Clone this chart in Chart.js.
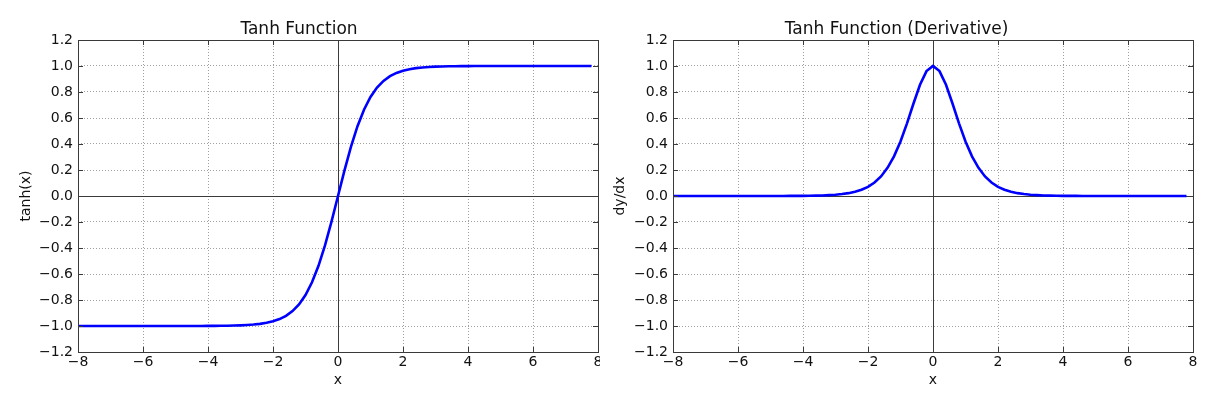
<!DOCTYPE html>
<html>
<head>
<meta charset="utf-8">
<title>Tanh Function</title>
<script src="https://cdn.jsdelivr.net/npm/chart.js@4.4.1/dist/chart.umd.min.js"></script>
<style>
  html, body { margin: 0; padding: 0; background: #fff; }
  #wrap { position: relative; width: 1230px; height: 395px; }
  canvas { position: absolute; top: 0; }
</style>
</head>
<body>
<div id="wrap">
  <canvas id="tanhChart" width="600" height="395" style="left:0"></canvas>
  <canvas id="derivChart" width="630" height="395" style="left:600px"></canvas>
</div>
<script>
"use strict"

const xValues = [
  -8.0, -7.8, -7.6, -7.4, -7.2, -7.0, -6.8, -6.6, -6.4, -6.2,
  -6.0, -5.8, -5.6, -5.4, -5.2, -5.0, -4.8, -4.6, -4.4, -4.2,
  -4.0, -3.8, -3.6, -3.4, -3.2, -3.0, -2.8, -2.6, -2.4, -2.2,
  -2.0, -1.8, -1.6, -1.4, -1.2, -1.0, -0.8, -0.6, -0.4, -0.2,
  0.0, 0.2, 0.4, 0.6, 0.8, 1.0, 1.2, 1.4, 1.6, 1.8,
  2.0, 2.2, 2.4, 2.6, 2.8, 3.0, 3.2, 3.4, 3.6, 3.8,
  4.0, 4.2, 4.4, 4.6, 4.8, 5.0, 5.2, 5.4, 5.6, 5.8,
  6.0, 6.2, 6.4, 6.6, 6.8, 7.0, 7.2, 7.4, 7.6, 7.8
];

const tanhValues = [
  -1.0, -1.0, -1.0, -1.0, -1.0, -1.0, -1.0, -1.0, -1.0, -1.0,
  -1.0, -1.0, -1.0, -1.0, -0.9999, -0.9999, -0.9999, -0.9998, -0.9997, -0.9996,
  -0.9993, -0.9990, -0.9985, -0.9978, -0.9967, -0.9951, -0.9926, -0.9890, -0.9837, -0.9757,
  -0.9640, -0.9468, -0.9217, -0.8854, -0.8337, -0.7616, -0.6640, -0.5370, -0.3799, -0.1974,
  0.0, 0.1974, 0.3799, 0.5370, 0.6640, 0.7616, 0.8337, 0.8854, 0.9217, 0.9468,
  0.9640, 0.9757, 0.9837, 0.9890, 0.9926, 0.9951, 0.9967, 0.9978, 0.9985, 0.9990,
  0.9993, 0.9996, 0.9997, 0.9998, 0.9999, 0.9999, 0.9999, 1.0, 1.0, 1.0,
  1.0, 1.0, 1.0, 1.0, 1.0, 1.0, 1.0, 1.0, 1.0, 1.0
];

const derivValues = [
  0.0, 0.0, 0.0, 0.0, 0.0, 0.0, 0.0, 0.0, 0.0, 0.0,
  0.0, 0.0, 0.0, 0.0, 0.0001, 0.0002, 0.0003, 0.0004, 0.0006, 0.0009,
  0.0013, 0.0020, 0.0030, 0.0044, 0.0066, 0.0099, 0.0148, 0.0219, 0.0323, 0.0480,
  0.0707, 0.1036, 0.1505, 0.2161, 0.3049, 0.4200, 0.5591, 0.7116, 0.8556, 0.9610,
  1.0, 0.9610, 0.8556, 0.7116, 0.5591, 0.4200, 0.3049, 0.2161, 0.1505, 0.1036,
  0.0707, 0.0480, 0.0323, 0.0219, 0.0148, 0.0099, 0.0066, 0.0044, 0.0030, 0.0020,
  0.0013, 0.0009, 0.0006, 0.0004, 0.0003, 0.0002, 0.0001, 0.0, 0.0, 0.0,
  0.0, 0.0, 0.0, 0.0, 0.0, 0.0, 0.0, 0.0, 0.0, 0.0
];

const xTicks = [-8, -6, -4, -2, 0, 2, 4, 6, 8];
const yTicks = [-1.2, -1.0, -0.8, -0.6, -0.4, -0.2, 0.0, 0.2, 0.4, 0.6, 0.8, 1.0, 1.2];

const FONT = "'DejaVu Sans', sans-serif";
const frameColor = '#3a3a3a';

function minus(s) {
  return s.replace('-', '\u2212');
}

// box around the plot, zero lines and inward ticks like matplotlib
const frame = {
  id: 'frame',
  beforeDatasetsDraw(chart) {
    const {ctx, chartArea: a, scales: {x, y}} = chart;
    const x0 = Math.round(x.getPixelForValue(0)) + 0.5;
    const y0 = Math.round(y.getPixelForValue(0)) + 0.5;
    ctx.save();
    ctx.strokeStyle = frameColor;
    ctx.lineWidth = 1;
    ctx.beginPath();
    ctx.moveTo(x0, a.top);
    ctx.lineTo(x0, a.bottom);
    ctx.moveTo(a.left, y0);
    ctx.lineTo(a.right, y0);
    ctx.stroke();
    ctx.restore();
  },
  afterDraw(chart) {
    const {ctx, chartArea: a, scales: {x, y}} = chart;
    const len = 5;
    ctx.save();
    ctx.strokeStyle = frameColor;
    ctx.lineWidth = 1;
    ctx.beginPath();
    xTicks.forEach(v => {
      const px = Math.round(x.getPixelForValue(v)) + 0.5;
      ctx.moveTo(px, a.bottom);
      ctx.lineTo(px, a.bottom - len);
      ctx.moveTo(px, a.top);
      ctx.lineTo(px, a.top + len);
    });
    yTicks.forEach(v => {
      const py = Math.round(y.getPixelForValue(v)) + 0.5;
      ctx.moveTo(a.left, py);
      ctx.lineTo(a.left + len, py);
      ctx.moveTo(a.right, py);
      ctx.lineTo(a.right - len, py);
    });
    ctx.stroke();
    ctx.strokeRect(Math.round(a.left) + 0.5, Math.round(a.top) + 0.5,
      Math.round(a.right - a.left), Math.round(a.bottom - a.top));
    ctx.restore();
  }
};

function createChart(id, title, yLabel, values, yWidth, padRight, yTitlePad) {
  new Chart(document.getElementById(id), {
    type: 'line',
    data: {
      datasets: [{
        data: xValues.map((v, i) => ({x: v, y: values[i]})),
        borderColor: '#0000ff',
        borderWidth: 2.6,
        pointRadius: 0,
        tension: 0,
        fill: false
      }]
    },
    options: {
      responsive: false,
      animation: false,
      layout: {padding: {left: 0, right: padRight, top: 0, bottom: 0}},
      plugins: {
        legend: {display: false},
        tooltip: {enabled: false},
        title: {
          display: true,
          text: title,
          color: '#111',
          font: {family: FONT, size: 17, weight: 'normal'},
          padding: {top: 19, bottom: 0.6}
        }
      },
      scales: {
        x: {
          type: 'linear',
          min: -8,
          max: 8,
          afterBuildTicks: s => { s.ticks = xTicks.map(v => ({value: v})); },
          afterFit: s => { s.height = 43; s.paddingLeft = 0; s.paddingRight = 0; },
          ticks: {
            color: '#111',
            font: {family: FONT, size: 14},
            padding: 2,
            maxRotation: 0,
            callback: v => minus(String(v))
          },
          grid: {color: '#a0a0a0', lineWidth: 1, drawTicks: false},
          border: {display: false, dash: [1, 2]},
          title: {
            display: true,
            text: 'x',
            color: '#111',
            font: {family: FONT, size: 14},
            padding: {top: 0, bottom: 6}
          }
        },
        y: {
          type: 'linear',
          min: -1.2,
          max: 1.2,
          afterBuildTicks: s => { s.ticks = yTicks.map(v => ({value: v})); },
          afterFit: s => { s.width = yWidth; s.paddingTop = 0; s.paddingBottom = 0; },
          ticks: {
            color: '#111',
            font: {family: FONT, size: 14},
            padding: 5,
            callback: v => Math.abs(v) < 1e-9 ? '0.0' : minus(v.toFixed(1))
          },
          grid: {color: '#a0a0a0', lineWidth: 1, drawTicks: false},
          border: {display: false, dash: [1, 2]},
          title: {
            display: true,
            text: yLabel,
            color: '#111',
            font: {family: FONT, size: 14},
            padding: {top: yTitlePad, bottom: 0}
          }
        }
      }
    },
    plugins: [frame]
  });
}

createChart('tanhChart', 'Tanh Function', 'tanh(x)', tanhValues, 78, 2, 18);
createChart('derivChart', 'Tanh Function (Derivative)', 'dy/dx', derivValues, 73, 37, 12);
</script>
</body>
</html>
